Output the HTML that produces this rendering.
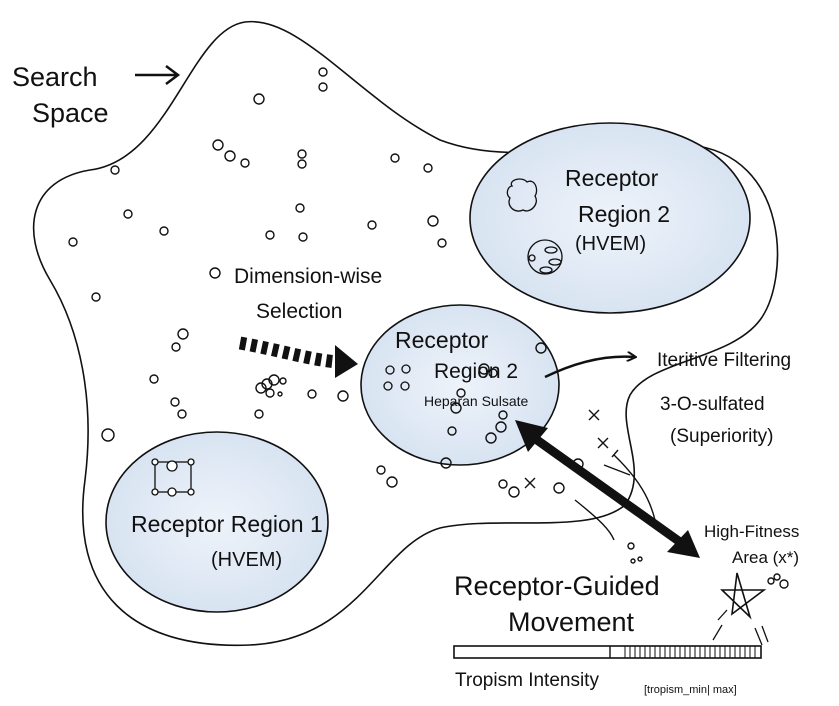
<!DOCTYPE html>
<html><head><meta charset="utf-8"><style>
html,body{margin:0;padding:0;background:#fff}
svg{display:block}
text{font-family:"Liberation Sans",sans-serif;fill:#111}
</style></head><body>
<svg width="839" height="706" viewBox="0 0 839 706" xmlns="http://www.w3.org/2000/svg">
<defs>
<radialGradient id="g" cx="50%" cy="50%" r="55%">
<stop offset="0" stop-color="#eef3fa"/><stop offset="1" stop-color="#d6e2f1"/>
</radialGradient>
<marker id="ah" markerWidth="10" markerHeight="10" refX="8" refY="5" orient="auto" markerUnits="userSpaceOnUse">
<path d="M0,0 L9,5 L0,10" fill="none" stroke="#111" stroke-width="2"/></marker>
</defs>
<g fill="none" stroke="#111" stroke-width="1.6">
<path d="M245,22 C300,15 360,100 440,140 C520,170 600,135 690,145 C790,155 790,280 760,320 C730,360 650,360 630,395 C615,425 650,470 625,505 C590,535 500,515 440,528 C380,545 360,640 250,645 C130,650 70,590 85,480 C95,400 80,330 50,280 C20,230 30,180 90,170 C170,160 190,30 245,22 Z"/>
</g>
<ellipse cx="610" cy="218" rx="140" ry="95" fill="url(#g)" stroke="#111" stroke-width="1.6"/>
<ellipse cx="460" cy="385" rx="99" ry="80" fill="url(#g)" stroke="#111" stroke-width="1.6"/>
<ellipse cx="217" cy="522" rx="111" ry="90" fill="url(#g)" stroke="#111" stroke-width="1.6"/>

<g fill="none" stroke="#111" stroke-width="1.4">
<circle cx="323" cy="72" r="4"/><circle cx="323" cy="87" r="4"/><circle cx="259" cy="99" r="5"/>
<circle cx="218" cy="145" r="5"/><circle cx="230" cy="156" r="5"/><circle cx="245" cy="163" r="4"/>
<circle cx="302" cy="154" r="4"/><circle cx="302" cy="164" r="4"/><circle cx="115" cy="170" r="4"/>
<circle cx="395" cy="158" r="4"/><circle cx="428" cy="168" r="4"/><circle cx="128" cy="214" r="4"/>
<circle cx="300" cy="208" r="4"/><circle cx="270" cy="235" r="4"/><circle cx="303" cy="237" r="4"/>
<circle cx="372" cy="225" r="4"/><circle cx="433" cy="221" r="5"/><circle cx="442" cy="243" r="4"/>
<circle cx="73" cy="242" r="4"/><circle cx="164" cy="231" r="4"/><circle cx="215" cy="273" r="5"/>
<circle cx="96" cy="297" r="4"/><circle cx="183" cy="334" r="5"/><circle cx="176" cy="347" r="4"/>
<circle cx="154" cy="379" r="4"/><circle cx="175" cy="402" r="4"/><circle cx="182" cy="414" r="4"/>
<circle cx="108" cy="435" r="6"/><circle cx="259" cy="414" r="4"/>
<circle cx="261" cy="388" r="5"/><circle cx="267" cy="384" r="5"/><circle cx="274" cy="380" r="5"/><circle cx="270" cy="393" r="4"/><circle cx="283" cy="381" r="3"/><circle cx="280" cy="394" r="2"/>
<circle cx="312" cy="394" r="4"/><circle cx="343" cy="396" r="5"/>
<circle cx="541" cy="348" r="5"/><circle cx="461" cy="393" r="4"/><circle cx="484" cy="369" r="5"/><circle cx="493" cy="373" r="4"/><circle cx="456" cy="408" r="5"/>
<circle cx="452" cy="431" r="4"/><circle cx="503" cy="415" r="4"/><circle cx="501" cy="427" r="5"/><circle cx="491" cy="438" r="5"/>
<circle cx="446" cy="463" r="5"/><circle cx="381" cy="470" r="4"/><circle cx="392" cy="482" r="5"/>
<circle cx="578" cy="464" r="5"/><circle cx="503" cy="484" r="4"/><circle cx="514" cy="492" r="5"/><circle cx="559" cy="488" r="5"/>
<circle cx="631" cy="546" r="3"/><circle cx="633" cy="561" r="2"/><circle cx="640" cy="559" r="2"/>
<circle cx="771" cy="581" r="3"/><circle cx="777" cy="577" r="3"/><circle cx="784" cy="584" r="4"/>
</g>
<g stroke="#111" stroke-width="1.4" fill="none">
<path d="M589,410 L599,420 M599,410 L589,420 M598,438 L608,448 M608,438 L598,448 M525,478 L535,488 M535,478 L525,488"/>
<path d="M604,465 L630,475 M614,455 C640,480 650,500 655,520 M575,500 C600,520 610,530 614,540 M612,457 L618,450"/>
</g>
<g fill="none" stroke="#111" stroke-width="1.3">
<path d="M512,186 C508,180 522,176 527,182 C535,178 539,190 535,196 C540,204 530,214 523,210 C515,214 506,206 510,198 C505,194 508,186 512,186Z"/>
<circle cx="545" cy="257" r="17"/><ellipse cx="551" cy="250" rx="6" ry="3"/><ellipse cx="555" cy="262" rx="6" ry="3"/><ellipse cx="546" cy="270" rx="6" ry="3"/><circle cx="532" cy="258" r="3"/>
<rect x="155" y="462" width="36" height="30"/><circle cx="155" cy="462" r="3" fill="#fff"/><circle cx="191" cy="462" r="3" fill="#fff"/><circle cx="155" cy="492" r="3" fill="#fff"/><circle cx="191" cy="492" r="3" fill="#fff"/><circle cx="172" cy="492" r="4" fill="#fff"/><circle cx="172" cy="466" r="5" fill="#fff"/>
<circle cx="390" cy="370" r="4"/><circle cx="406" cy="369" r="4"/><circle cx="388" cy="386" r="4"/><circle cx="405" cy="386" r="4"/>
</g>
<path d="M135,75 L178,75 M166,66 L178,75 L166,84" fill="none" stroke="#111" stroke-width="2.5"/>
<path d="M240,343 C280,350 310,360 338,362" fill="none" stroke="#111" stroke-width="13" stroke-dasharray="6,5"/>
<path d="M335,345 L358,364 L335,378 Z" fill="#111"/>
<path d="M545,377 C580,360 610,355 635,357" fill="none" stroke="#111" stroke-width="2.5" marker-end="url(#ah)"/>
<path d="M530,435 L680,542" stroke="#111" stroke-width="9"/>
<path d="M515,420 L548,428 L528,452 Z" fill="#111"/>
<path d="M700,558 L667,552 L688,530 Z" fill="#111"/>
<path d="M737,573 L750,617 L722,590 L764,590 L732,614 Z" fill="none" stroke="#111" stroke-width="1.6"/>
<path d="M727,610 L718,620 M722,625 L713,640 M755,628 L762,645 M762,626 L768,642" stroke="#111" stroke-width="1.3"/>
<rect x="454" y="646" width="307" height="12" fill="#fff" stroke="#111" stroke-width="1.6"/>
<line x1="610" y1="646" x2="610" y2="658" stroke="#111" stroke-width="1.4"/>
<path d="M625,646V658M630,646V658M635,646V658M640,646V658M645,646V658M650,646V658M655,646V658M660,646V658M665,646V658M670,646V658M675,646V658M680,646V658M685,646V658M690,646V658M695,646V658M700,646V658M705,646V658M710,646V658M715,646V658M720,646V658M725,646V658M730,646V658M735,646V658M740,646V658M745,646V658M750,646V658M755,646V658" stroke="#111" stroke-width="1"/>
<text x="12" y="86" font-size="27">Search</text>
<text x="32" y="122" font-size="27">Space</text>
<text x="234" y="283" font-size="21">Dimension-wise</text>
<text x="256" y="318" font-size="21">Selection</text>
<text x="565" y="186" font-size="23">Receptor</text>
<text x="578" y="222" font-size="23">Region 2</text>
<text x="575" y="250" font-size="20">(HVEM)</text>
<text x="395" y="348" font-size="23">Receptor</text>
<text x="434" y="378" font-size="21">Region 2</text>
<text x="424" y="406" font-size="14">Heparan Sulsate</text>
<text x="131" y="532" font-size="23">Receptor Region 1</text>
<text x="211" y="566" font-size="20">(HVEM)</text>
<text x="657" y="366" font-size="19">Iteritive Filtering</text>
<text x="660" y="410" font-size="19">3-O-sulfated</text>
<text x="670" y="442" font-size="19">(Superiority)</text>
<text x="704" y="537" font-size="17">High-Fitness</text>
<text x="732" y="563" font-size="17">Area (x*)</text>
<text x="454" y="595" font-size="27">Receptor-Guided</text>
<text x="508" y="631" font-size="27">Movement</text>
<text x="455" y="686" font-size="19">Tropism Intensity</text>
<text x="644" y="693" font-size="11">[tropism_min| max]</text>
</svg>
</body></html>
